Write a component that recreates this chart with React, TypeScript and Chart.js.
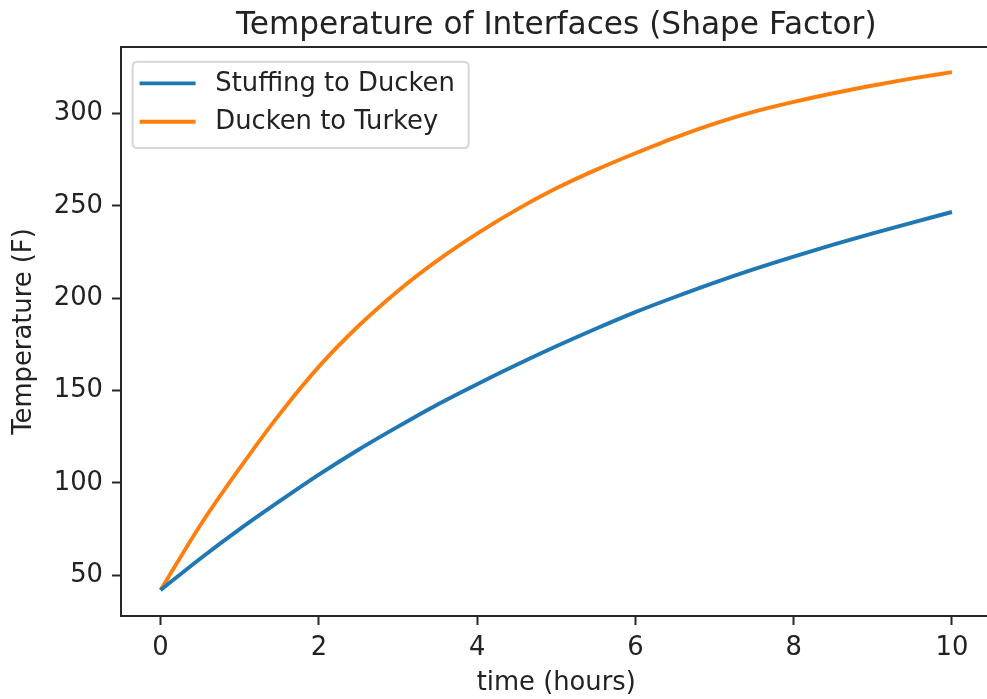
import React, { useEffect, useRef } from 'react';
import { Chart, registerables } from 'chart.js';

Chart.register(...registerables);

const TITLE = 'Temperature of Interfaces (Shape Factor)';
const X_LABEL = 'time (hours)';
const Y_LABEL = 'Temperature (F)';

const time = [0, 0.5, 1, 1.5, 2, 2.5, 3, 3.5, 4, 4.5, 5, 5.5, 6, 6.5, 7, 7.5, 8, 8.5, 9, 9.5, 10];
const stuffingToDucken = [42, 59, 75, 90, 104.5, 118, 130.5, 142.5, 153.5, 164, 174, 183.5, 192.5, 200.7, 208.5, 215.8, 222.6, 229, 235.1, 241, 246.7];
const duckenToTurkey = [42, 77, 108, 137, 163, 185, 204, 220.5, 235, 248, 259.5, 269.5, 278.5, 287, 294.5, 301, 306.3, 311, 315.2, 319, 322.4];

const seriesLabels = ['Stuffing to Ducken', 'Ducken to Turkey'];
const seriesColors = ['#1f77b4', '#ff7f0e'];

const xTicks = [0, 2, 4, 6, 8, 10];
const yTicks = [50, 100, 150, 200, 250, 300];
const xRange = [-0.5, 10.5];
const yRange = [28, 336];

const FONT = '"DejaVu Sans", "Noto Sans", sans-serif';
const FS = 25.8;
const TEXT = '#222222';
const SPINE = '#262626';
const CANVAS_W = 1040;
const PLOT_RIGHT = 991.5;

const frame = {
  id: 'mplFrame',
  afterDraw(chart: any) {
    const { ctx, chartArea } = chart;
    ctx.save();
    ctx.strokeStyle = SPINE;
    ctx.lineWidth = 2;
    ctx.beginPath();
    ctx.moveTo(chartArea.left - 1, chartArea.top);
    ctx.lineTo(chartArea.right + 1, chartArea.top);
    ctx.stroke();
    ctx.restore();
  },
};

const legendBox = {
  id: 'mplLegend',
  afterDraw(chart: any) {
    const { ctx, chartArea } = chart;
    const ds = chart.data.datasets;
    ctx.save();
    ctx.font = `${FS}px ${FONT}`;
    const widths = ds.map((d: any) => ctx.measureText(d.label).width);
    const left = chartArea.left + 11.6;
    const top = chartArea.top + 14.7;
    const w = 82.7 + Math.max(...widths) + 14;
    const h = 86.3;
    const r = 5;
    ctx.beginPath();
    ctx.moveTo(left + r, top);
    ctx.lineTo(left + w - r, top);
    ctx.quadraticCurveTo(left + w, top, left + w, top + r);
    ctx.lineTo(left + w, top + h - r);
    ctx.quadraticCurveTo(left + w, top + h, left + w - r, top + h);
    ctx.lineTo(left + r, top + h);
    ctx.quadraticCurveTo(left, top + h, left, top + h - r);
    ctx.lineTo(left, top + r);
    ctx.quadraticCurveTo(left, top, left + r, top);
    ctx.closePath();
    ctx.fillStyle = 'rgba(255,255,255,0.8)';
    ctx.fill();
    ctx.strokeStyle = '#d6d6d6';
    ctx.lineWidth = 2;
    ctx.stroke();
    ds.forEach((d: any, i: number) => {
      const y = top + 21.6 + i * 38.4;
      ctx.beginPath();
      ctx.moveTo(left + 7, y);
      ctx.lineTo(left + 63, y);
      ctx.strokeStyle = d.borderColor;
      ctx.lineWidth = 3.9;
      ctx.stroke();
      ctx.fillStyle = TEXT;
      ctx.textBaseline = 'middle';
      ctx.textAlign = 'left';
      ctx.fillText(d.label, left + 82.7, y + 1);
    });
    ctx.restore();
  },
};

export default function App() {
  const ref = useRef<HTMLCanvasElement>(null);

  useEffect(() => {
    const canvas = ref.current;
    if (!canvas) return;
    const series = [stuffingToDucken, duckenToTurkey];
    const chart = new Chart(canvas, {
      type: 'line',
      data: {
        datasets: series.map((vals, i) => ({
          label: seriesLabels[i],
          data: time.map((t, j) => ({ x: t, y: vals[j] })),
          borderColor: seriesColors[i],
          backgroundColor: seriesColors[i],
          borderWidth: 3.9,
          pointRadius: 0,
          cubicInterpolationMode: 'monotone' as const,
          fill: false,
        })),
      },
      options: {
        responsive: false,
        animation: false,
        devicePixelRatio: 1,
        layout: { padding: { left: 0, top: 0, right: CANVAS_W - PLOT_RIGHT, bottom: 0 } },
        plugins: {
          legend: { display: false },
          tooltip: { enabled: false },
          title: {
            display: true,
            text: TITLE,
            fullSize: false,
            color: TEXT,
            font: { family: FONT, size: 31.2, weight: 'normal' },
            padding: { top: 7.2, bottom: 2.4 },
          },
        },
        scales: {
          x: {
            type: 'linear',
            min: xRange[0],
            max: xRange[1],
            afterBuildTicks: (s: any) => {
              s.ticks = xTicks.map((v) => ({ value: v }));
            },
            afterFit: (s: any) => {
              s.height = 83;
            },
            ticks: {
              color: TEXT,
              font: { family: FONT, size: FS },
              padding: 8,
              autoSkip: false,
              maxRotation: 0,
              minRotation: 0,
            },
            grid: {
              display: true,
              drawOnChartArea: false,
              drawTicks: true,
              tickLength: 9,
              tickWidth: 2,
              tickColor: SPINE,
            },
            border: { display: true, color: SPINE, width: 2 },
            title: {
              display: true,
              text: X_LABEL,
              color: TEXT,
              font: { family: FONT, size: FS },
              padding: { top: 0, bottom: 0 },
            },
          },
          y: {
            type: 'linear',
            min: yRange[0],
            max: yRange[1],
            afterBuildTicks: (s: any) => {
              s.ticks = yTicks.map((v) => ({ value: v }));
            },
            afterFit: (s: any) => {
              s.width = 121;
            },
            ticks: {
              color: TEXT,
              font: { family: FONT, size: FS },
              padding: 9,
              autoSkip: false,
            },
            grid: {
              display: true,
              drawOnChartArea: false,
              drawTicks: true,
              tickLength: 9,
              tickWidth: 2,
              tickColor: SPINE,
            },
            border: { display: true, color: SPINE, width: 2 },
            title: {
              display: true,
              text: Y_LABEL,
              color: TEXT,
              font: { family: FONT, size: FS },
              padding: { top: 8.6, bottom: 0 },
            },
          },
        },
      },
      plugins: [frame, legendBox],
    });
    return () => chart.destroy();
  }, []);

  return (
    <div
      style={{
        position: 'fixed',
        left: 0,
        top: 0,
        width: 987,
        height: 699,
        overflow: 'hidden',
        background: '#ffffff',
      }}
    >
      <canvas ref={ref} width={CANVAS_W} height={699} style={{ display: 'block', width: CANVAS_W, height: 699 }} />
    </div>
  );
}
